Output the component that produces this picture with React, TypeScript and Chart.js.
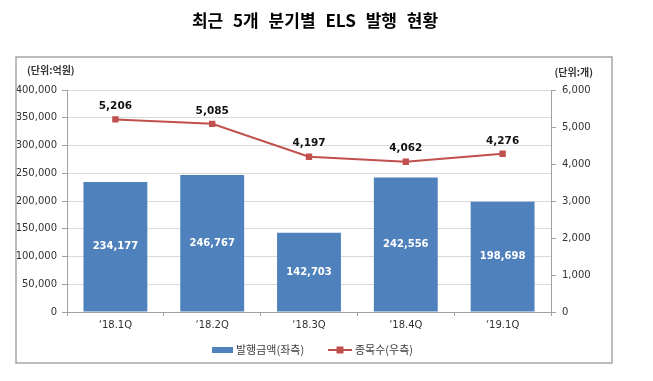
import React, { useEffect, useRef } from "react";
import { Chart, registerables } from "chart.js";

Chart.register(...registerables);

const titleText = "최근 5개 분기별 ELS 발행 현황";
const leftUnit = "(단위:억원)";
const rightUnit = "(단위:개)";
const categories = ["\u201818.1Q", "\u201818.2Q", "\u201818.3Q", "\u201818.4Q", "\u201819.1Q"];
const amountLabel = "발행금액(좌측)";
const countLabel = "종목수(우측)";
const issueAmount = [234177, 246767, 142703, 242556, 198698];
const issueCount = [5206, 5085, 4197, 4062, 4276];

const BAR_COLOR = "#4F81BD";
const LINE_COLOR = "#C0504D";
const AXIS_COLOR = "#a0a0a0";
const NUM_FONT = "'DejaVu Sans', Verdana, sans-serif";
const KR_FONT = "'Noto Sans CJK KR', 'Noto Sans', sans-serif";

const fmt = (v: number) => Number(v).toLocaleString("en-US");

const decorPlugin = {
  id: "decor",
  afterDraw(chart: any) {
    const ctx = chart.ctx;
    ctx.save();
    // frame
    ctx.strokeStyle = "#a6a6a6";
    ctx.lineWidth = 1.5;
    ctx.strokeRect(16, 57, 596, 306);
    // title
    ctx.fillStyle = "#000";
    ctx.font = `bold 17px ${KR_FONT}`;
    ctx.textAlign = "center";
    ctx.textBaseline = "middle";
    try {
      (ctx as any).wordSpacing = "6px";
    } catch (e) {}
    ctx.fillText(titleText, 315, 21);
    try {
      (ctx as any).wordSpacing = "0px";
    } catch (e) {}
    // units
    ctx.font = `bold 10px ${KR_FONT}`;
    ctx.fillStyle = "#333";
    ctx.textAlign = "left";
    ctx.fillText(leftUnit, 27, 70);
    ctx.textAlign = "right";
    ctx.fillText(rightUnit, 593, 72);

    // data labels
    const barMeta = chart.getDatasetMeta(0);
    const lineMeta = chart.getDatasetMeta(1);
    ctx.textAlign = "center";
    ctx.textBaseline = "middle";
    ctx.font = `bold 10px ${NUM_FONT}`;
    ctx.fillStyle = "#fff";
    barMeta.data.forEach((el: any, i: number) => {
      ctx.fillText(fmt(issueAmount[i]), el.x, (el.y + el.base) / 2);
    });
    ctx.font = `bold 10.5px ${NUM_FONT}`;
    ctx.fillStyle = "#111";
    lineMeta.data.forEach((el: any, i: number) => {
      ctx.fillText(fmt(issueCount[i]), el.x, el.y - 13);
    });

    // legend
    const ly = 350;
    ctx.fillStyle = BAR_COLOR;
    ctx.fillRect(212, ly - 3, 21, 6);
    ctx.font = `11px ${KR_FONT}`;
    ctx.fillStyle = "#404040";
    ctx.textAlign = "left";
    ctx.fillText(amountLabel, 236, ly);
    ctx.strokeStyle = LINE_COLOR;
    ctx.lineWidth = 2;
    ctx.beginPath();
    ctx.moveTo(328, ly);
    ctx.lineTo(352, ly);
    ctx.stroke();
    ctx.fillStyle = LINE_COLOR;
    ctx.fillRect(340 - 3.5, ly - 3.5, 7, 7);
    ctx.fillStyle = "#404040";
    ctx.fillText(countLabel, 355, ly);
    ctx.restore();
  },
};

export default function App() {
  const ref = useRef<HTMLCanvasElement | null>(null);
  useEffect(() => {
    document.body.style.margin = "0";
    const canvas = ref.current;
    if (!canvas) return;
    const chart = new Chart(canvas, {
      type: "bar",
      data: {
        labels: categories,
        datasets: [
          {
            type: "bar",
            label: amountLabel,
            data: issueAmount,
            backgroundColor: BAR_COLOR,
            yAxisID: "y",
            barPercentage: 0.66,
            categoryPercentage: 1,
            order: 1,
          } as any,
          {
            type: "line",
            label: countLabel,
            data: issueCount,
            borderColor: LINE_COLOR,
            backgroundColor: LINE_COLOR,
            borderWidth: 2,
            pointStyle: "rect",
            pointRadius: 4.5,
            pointBorderWidth: 0,
            yAxisID: "y1",
            order: 0,
          } as any,
        ],
      },
      options: {
        animation: false,
        responsive: false,
        maintainAspectRatio: false,
        layout: { padding: { top: 90, left: 0, right: 0, bottom: 0 } },
        plugins: { legend: { display: false }, tooltip: { enabled: false }, title: { display: false } },
        scales: {
          x: {
            grid: { offset: true, drawOnChartArea: false, tickLength: 4, color: AXIS_COLOR },
            border: { color: AXIS_COLOR, width: 1 },
            ticks: { font: { family: NUM_FONT, size: 10 }, color: "#333", padding: 3 },
            afterFit(s: any) {
              s.height = 69;
            },
          },
          y: {
            position: "left",
            min: 0,
            max: 400000,
            ticks: {
              stepSize: 50000,
              callback: (v: any) => fmt(v),
              font: { family: NUM_FONT, size: 10 },
              color: "#333",
              padding: 5,
            },
            grid: { color: "#d9d9d9", tickLength: 5, tickColor: AXIS_COLOR, lineWidth: 1 },
            border: { color: AXIS_COLOR, width: 1 },
            afterFit(s: any) {
              s.width = 67;
            },
          },
          y1: {
            position: "right",
            min: 0,
            max: 6000,
            ticks: {
              stepSize: 1000,
              callback: (v: any) => fmt(v),
              font: { family: NUM_FONT, size: 10 },
              color: "#333",
              padding: 6,
            },
            grid: { drawOnChartArea: false, tickLength: 5, color: AXIS_COLOR },
            border: { color: AXIS_COLOR, width: 1 },
            afterFit(s: any) {
              s.width = 102;
            },
          },
        },
      } as any,
      plugins: [decorPlugin],
    });
    return () => chart.destroy();
  }, []);
  return (
    <div style={{ width: 653, height: 381 }}>
      <canvas ref={ref} width={653} height={381} style={{ width: 653, height: 381, display: "block" }} />
    </div>
  );
}
